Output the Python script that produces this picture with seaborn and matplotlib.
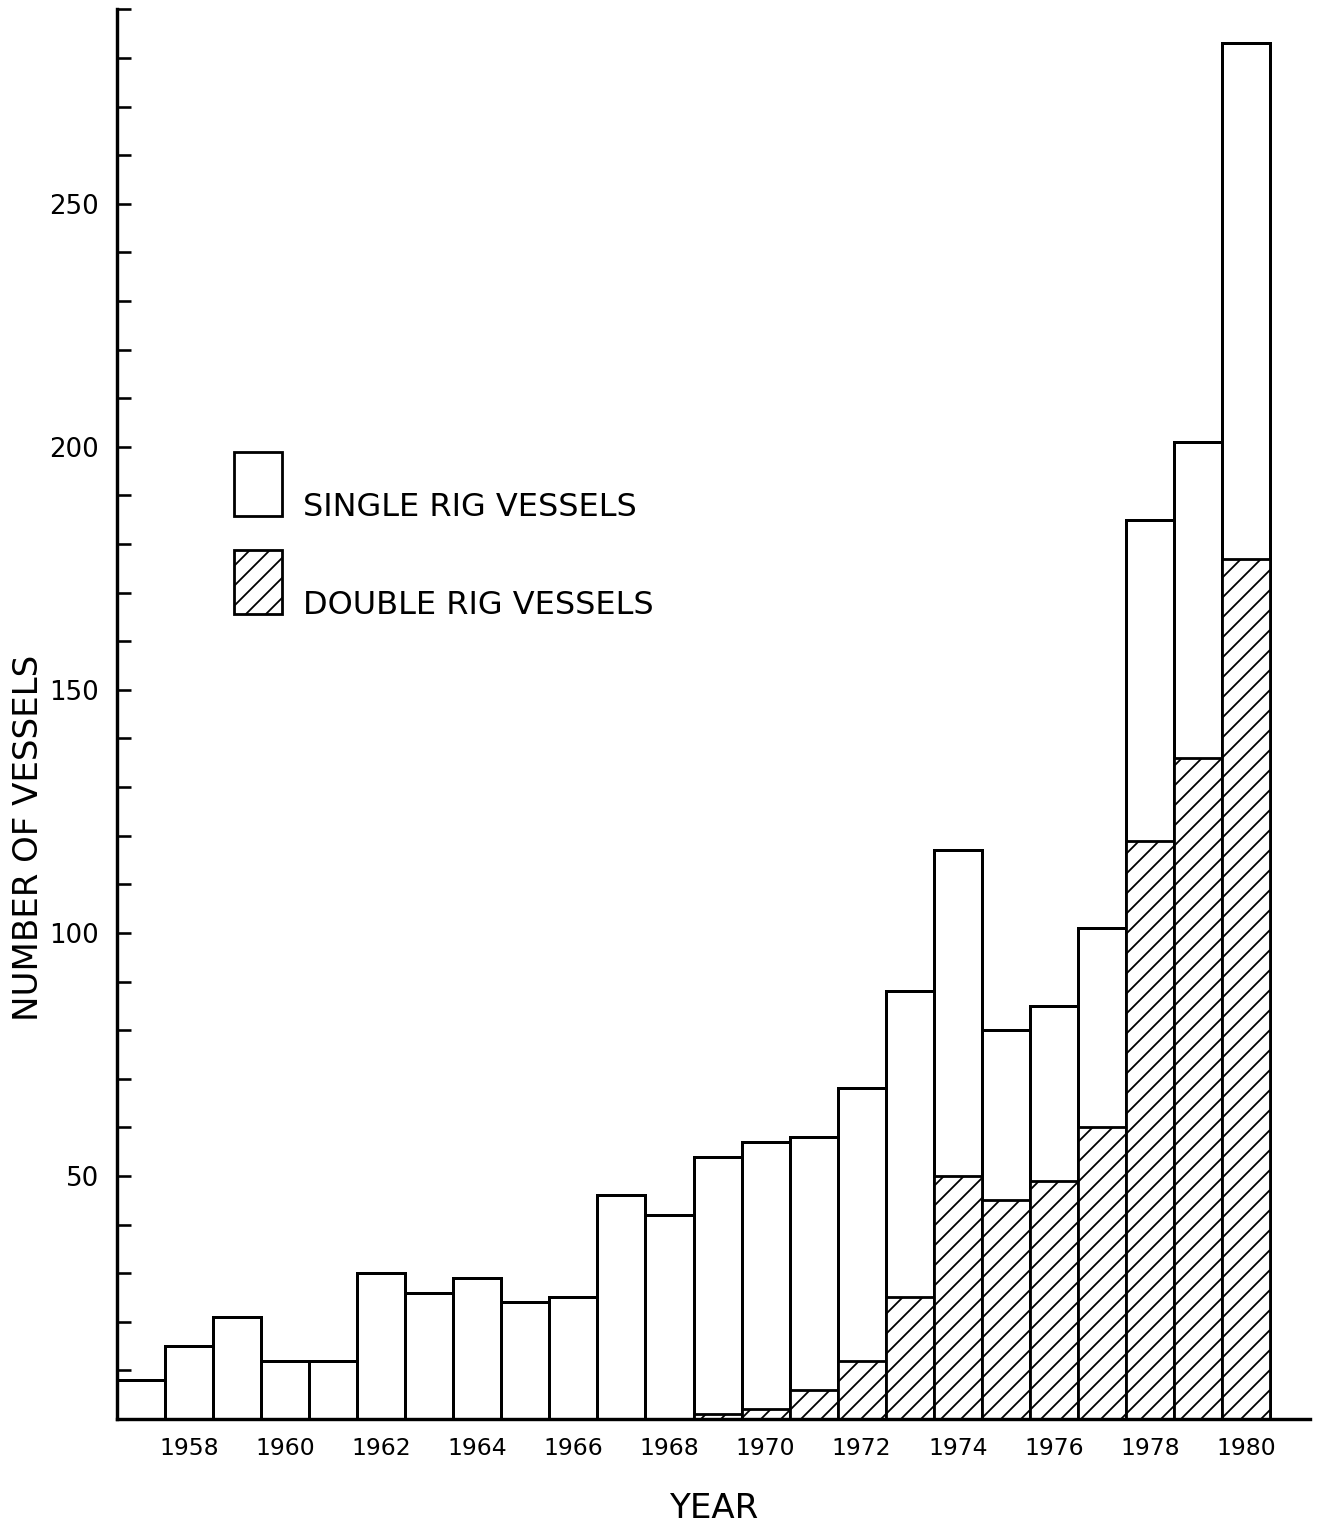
import matplotlib
matplotlib.use("Agg")
import matplotlib.pyplot as plt
import seaborn as sns
import pandas as pd
from matplotlib.patches import Patch, Rectangle
from matplotlib.legend_handler import HandlerPatch

# ---- data ----
years = list(range(1957, 1981))
single_rig = [8, 15, 21, 12, 12, 30, 26, 29, 24, 25, 46, 42,
              53, 55, 52, 56, 63, 67, 35, 36, 41, 66, 65, 106]
double_rig = [0, 0, 0, 0, 0, 0, 0, 0, 0, 0, 0, 0,
              1, 2, 6, 12, 25, 50, 45, 49, 60, 119, 136, 177]
year_ticks = list(range(1958, 1981, 2))
y_labels = [50, 100, 150, 200, 250]
legend_labels = ["SINGLE RIG VESSELS", "DOUBLE RIG VESSELS"]

df = pd.DataFrame({"year": years, "single": single_rig, "double": double_rig})
df["total"] = df["single"] + df["double"]

DPI = 60  # chosen so the "/" hatch spacing matches the reference


def pt(px):
    """convert a size in output pixels to points"""
    return px * 72.0 / DPI


sns.set_style("white")
plt.rcParams["font.family"] = ["DejaVu Sans"]
plt.rcParams["hatch.linewidth"] = pt(1.8)
plt.rcParams["hatch.color"] = "black"

fig = plt.figure(figsize=(1326 / DPI, 1524 / DPI), dpi=DPI)
ax = fig.add_axes([0.0882, 0.0689, 0.8997, 0.925])

sns.barplot(data=df, x="year", y="total", native_scale=True, width=1.0,
            color="white", edgecolor="black", linewidth=pt(3.0), saturation=1,
            errorbar=None, ax=ax)
sns.barplot(data=df[df["double"] > 0], x="year", y="double", native_scale=True,
            width=1.0, color="white", edgecolor="black", linewidth=pt(2.8),
            saturation=1, errorbar=None, hatch="/", ax=ax)

ax.set_xlim(1956.5, 1981.33)
ax.set_ylim(0, 290)

ax.set_xticks(year_ticks)
ax.set_xticklabels([str(y) for y in year_ticks])
ax.set_yticks(y_labels)
ax.set_yticklabels([str(v) for v in y_labels])
ax.set_yticks(list(range(0, 291, 10)), minor=True)

ax.tick_params(axis="y", which="both", left=True, direction="in",
               length=pt(14), width=pt(2.6), color="black")
ax.tick_params(axis="y", which="major", labelsize=pt(26), pad=pt(18),
               labelcolor="black")
ax.tick_params(axis="x", which="both", bottom=False, length=0,
               labelsize=pt(23.5), pad=pt(18), labelcolor="black")

for s in ["top", "right"]:
    ax.spines[s].set_visible(False)
for s in ["left", "bottom"]:
    ax.spines[s].set_linewidth(pt(3.4))
    ax.spines[s].set_color("black")

ax.set_xlabel("YEAR", fontsize=pt(34), color="black")
ax.set_ylabel("NUMBER OF VESSELS", fontsize=pt(34), color="black")
ax.xaxis.set_label_coords(0.5, -0.052)
ax.yaxis.set_label_coords(-0.06, 0.412)


class BaselineBoxHandler(HandlerPatch):
    """legend key box whose bottom sits on the text baseline"""

    def create_artists(self, legend, orig_handle, xdescent, ydescent,
                       width, height, fontsize, trans):
        p = Rectangle(xy=(-xdescent, 0), width=width, height=height + ydescent)
        self.update_prop(p, orig_handle, legend)
        p.set_transform(trans)
        return [p]


handles = [
    Patch(facecolor="white", edgecolor="black", linewidth=pt(2.8),
          label=legend_labels[0]),
    Patch(facecolor="white", edgecolor="black", linewidth=pt(2.8), hatch="/",
          label=legend_labels[1]),
]
leg_fs_px = 32
ax.legend(handles=handles, loc="upper left", bbox_to_anchor=(0.098, 0.6655),
          frameon=False, fontsize=pt(leg_fs_px), labelcolor="black",
          handlelength=48 / leg_fs_px, handleheight=64 / leg_fs_px,
          handletextpad=21 / leg_fs_px, labelspacing=49 / leg_fs_px,
          borderpad=0, borderaxespad=0,
          handler_map={Patch: BaselineBoxHandler()})

fig.savefig("out.png", dpi=DPI, facecolor="white")
